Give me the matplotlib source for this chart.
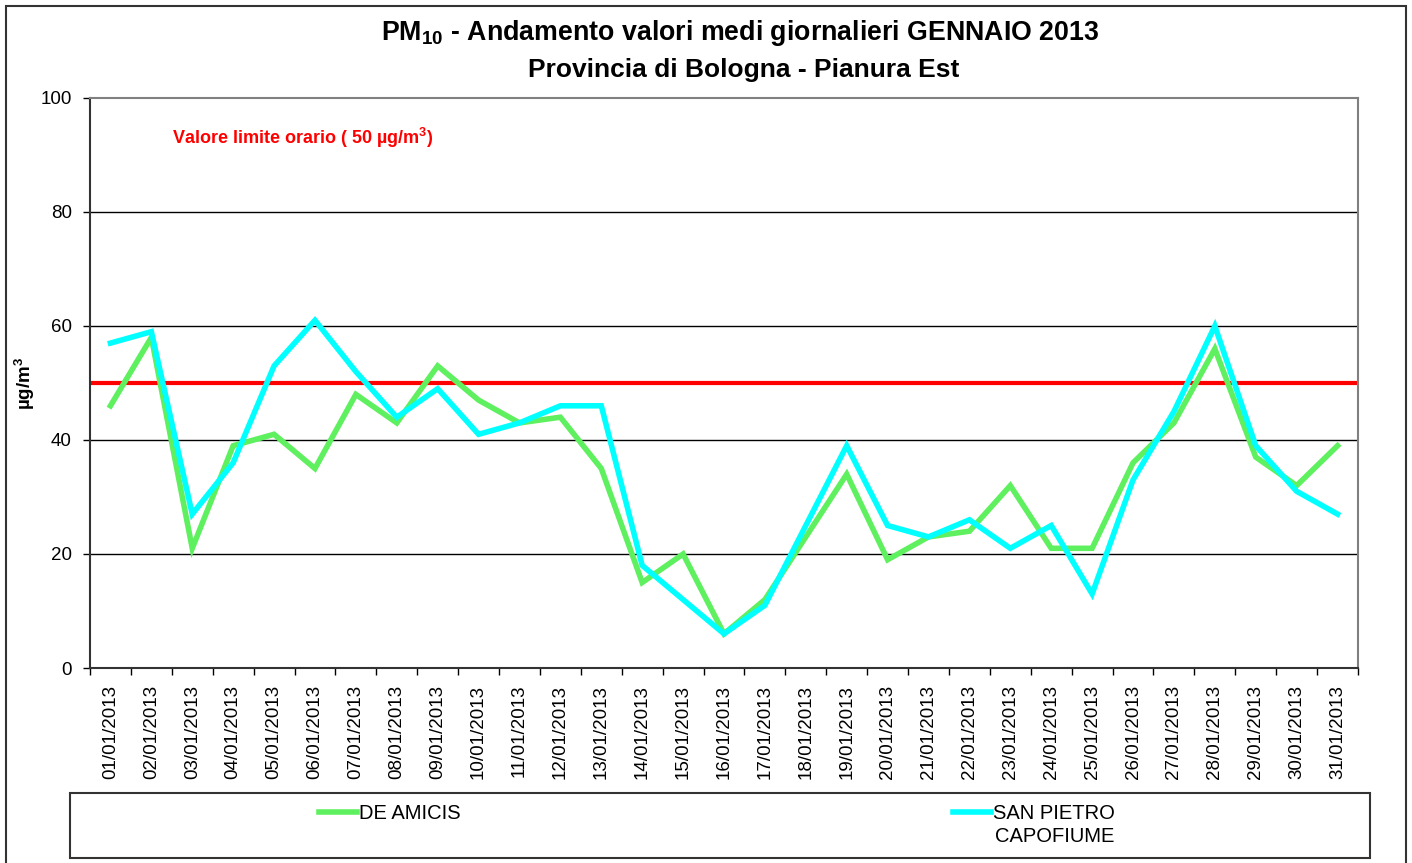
import matplotlib
matplotlib.use("Agg")
import matplotlib.pyplot as plt
from matplotlib.patches import Rectangle

plt.rcParams['font.family'] = ['Liberation Sans', 'DejaVu Sans']
plt.rcParams['mathtext.fontset'] = 'custom'
plt.rcParams['mathtext.rm'] = 'Liberation Sans'
plt.rcParams['mathtext.it'] = 'Liberation Sans:italic'
plt.rcParams['mathtext.bf'] = 'Liberation Sans:bold'

dates = [f"{d:02d}/01/2013" for d in range(1, 32)]
de_amicis = [46, 58, 21, 39, 41, 35, 48, 43, 53, 47, 43, 44, 35, 15, 20, 6,
             12, 23, 34, 19, 23, 24, 32, 21, 21, 36, 43, 56, 37, 32, 39]
san_pietro = [57, 59, 27, 36, 53, 61, 52, 44, 49, 41, 43, 46, 46, 18, 12, 6,
              11, 25, 39, 25, 23, 26, 21, 25, 13, 33, 45, 60, 39, 31, 27]
limit_value = 50
series_names = ["DE AMICIS", "SAN PIETRO\nCAPOFIUME"]
y_ticks = [0, 20, 40, 60, 80, 100]

W, H = 1412, 863
fig = plt.figure(figsize=(W / 100, H / 100), dpi=100)

# outer border
fig.patches.append(Rectangle((6 / W, -0.01), 1400 / W, 1 - 6 / H + 0.01,
                             transform=fig.transFigure, fill=False,
                             edgecolor='#333333', linewidth=1.5))

ax = fig.add_axes([90 / W, 1 - 668 / H, (1358 - 90) / W, (668 - 98) / H])
x = list(range(len(dates)))

for yv in [20, 40, 60, 80]:
    ax.axhline(yv, color='black', linewidth=1.0, zorder=1)

ax.axhline(limit_value, color='#FF0000', linewidth=3, zorder=2)
l1, = ax.plot(x, de_amicis, color='#5EF05E', linewidth=4, zorder=3,
              solid_joinstyle='miter', label=series_names[0])
l2, = ax.plot(x, san_pietro, color='#00FFFF', linewidth=4, zorder=4,
              solid_joinstyle='miter', label=series_names[1])

ax.set_xlim(-0.5, len(dates) - 0.5)
ax.set_ylim(0, 100)
ax.set_yticks(y_ticks)
ax.set_yticklabels([str(v) for v in y_ticks], fontsize=13.5)
ax.set_xticks(x)
ax.set_xticklabels(dates, rotation=90, fontsize=13.5)
ax.set_xticks([i - 0.5 for i in range(len(dates) + 1)], minor=True)
ax.tick_params(axis='x', which='major', length=0, pad=12)
ax.tick_params(axis='x', which='minor', length=5, width=1, direction='out')
ax.tick_params(axis='y', length=5, width=1, direction='out', pad=8)

for s in ['top', 'right']:
    ax.spines[s].set_color('#808080')
    ax.spines[s].set_linewidth(1.5)
for s in ['left', 'bottom']:
    ax.spines[s].set_color('#333333')
    ax.spines[s].set_linewidth(1.5)

ax.set_ylabel('µg/m$^\\mathbf{3}$', fontsize=13.5, fontweight='bold')
ax.yaxis.set_label_coords(-0.042, 0.5)

ax.text(0.065, 0.93, 'Valore limite orario ( 50 µg/m$^\\mathbf{3}$)', transform=ax.transAxes,
        color='#FF0000', fontsize=13, fontweight='bold', va='center', ha='left')

fig.text(740 / W, 1 - 33 / H,
         'PM$_\\mathbf{10}$ - Andamento valori medi giornalieri GENNAIO 2013',
         ha='center', va='center', fontsize=19.3, fontweight='bold')
fig.text(744 / W, 1 - 70 / H, 'Provincia di Bologna - Pianura Est',
         ha='center', va='center', fontsize=19, fontweight='bold')

# legend box
fig.patches.append(Rectangle((70 / W, 1 - 858 / H), (1370 - 70) / W, 65 / H,
                             transform=fig.transFigure, fill=False,
                             edgecolor='#333333', linewidth=1.5))
first_line, second_line = series_names[1].split("\n")
fig.legend([l1], [series_names[0]], loc='upper left',
           bbox_to_anchor=(319 / W, 1 - 804 / H), frameon=False,
           fontsize=14.5, handlelength=1.9, handletextpad=0.1,
           borderpad=0, borderaxespad=0)
fig.legend([l2], [first_line], loc='upper left',
           bbox_to_anchor=(953 / W, 1 - 804 / H), frameon=False,
           fontsize=14.5, handlelength=1.9, handletextpad=0.1,
           borderpad=0, borderaxespad=0)
fig.text(995 / W, 1 - 836 / H, second_line, fontsize=14.5,
         ha='left', va='center')

fig.savefig('out.png', dpi=100)
